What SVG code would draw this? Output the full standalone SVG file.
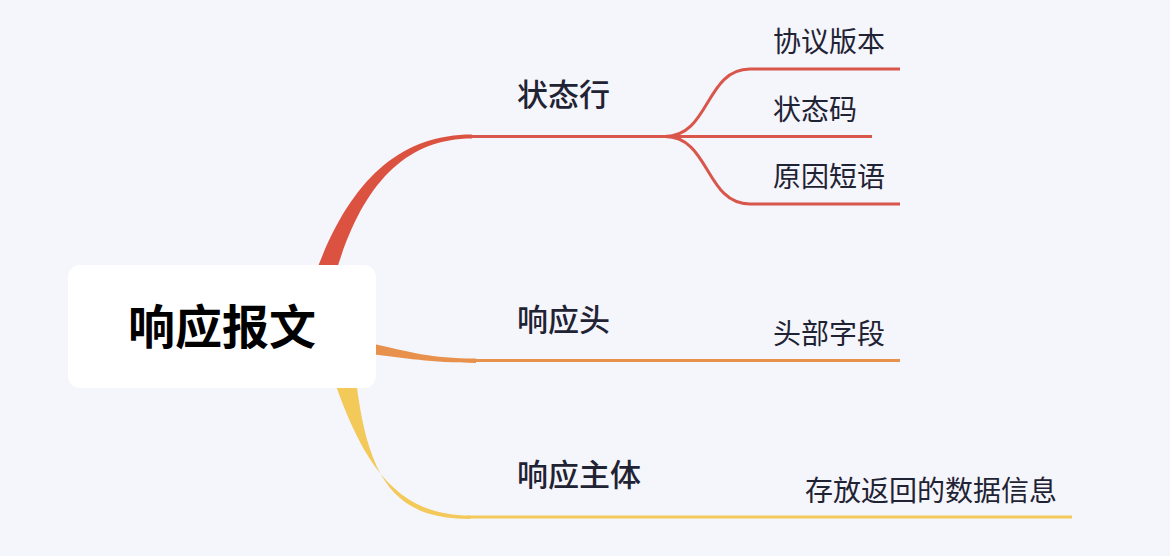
<svg xmlns="http://www.w3.org/2000/svg" width="1170" height="556" viewBox="0 0 1170 556">
<style>
.lbl{font-family:"Noto Sans CJK SC","Noto Sans",sans-serif;fill:#1f2333}
.main{font-size:31px;font-weight:500}
.sub{font-size:28px;font-weight:normal}
.root{font-family:"Noto Sans CJK SC","Noto Sans",sans-serif;font-size:47px;font-weight:bold;fill:#000}
.ln{fill:none;stroke-width:3;stroke-linecap:butt}
</style>
<rect width="1170" height="556" fill="#f5f5fc"/>
<g id="connectors">
<path d="M316,272 C350,180 400,134.5 472,134.5 L472,138.5 C405,138.5 362,185 336,272 Z" fill="#dc5241"/>
<path class="ln" stroke="#d8574a" d="M470,136.5 H665 C710,136.5 705,69 750,69 H900"/>
<path class="ln" stroke="#d8574a" d="M660,136.5 H872"/>
<path class="ln" stroke="#d8574a" d="M665,136.5 C710,136.5 705,204 750,204 H900"/>
<path d="M370,343 C410,352 430,358.5 476,358.5 L476,363 C430,362.5 405,358 370,354 Z" fill="#e8914c"/>
<path class="ln" stroke="#e8914c" d="M474,360.5 H900"/>
<path d="M334,380 C365,470 400,515.5 470,515.5 L470,519 C395,519 368,480 356,380 Z" fill="#f3c95a"/>
<path class="ln" stroke="#f3c95a" d="M468,517 H1072"/>
</g>
<g id="root">
<rect x="68" y="265" width="308" height="123" rx="12" fill="#ffffff"/>
<text class="root" x="222" y="344" text-anchor="middle">响应报文</text>
</g>
<g id="n-status-line"><text class="lbl main" x="517" y="106">状态行</text></g>
<g id="n-protocol"><text class="lbl sub" x="773" y="52">协议版本</text></g>
<g id="n-status-code"><text class="lbl sub" x="773" y="120">状态码</text></g>
<g id="n-reason"><text class="lbl sub" x="773" y="187">原因短语</text></g>
<g id="n-headers"><text class="lbl main" x="517" y="331">响应头</text></g>
<g id="n-header-fields"><text class="lbl sub" x="773" y="344">头部字段</text></g>
<g id="n-body"><text class="lbl main" x="517" y="486">响应主体</text></g>
<g id="n-body-data"><text class="lbl sub" x="805" y="501">存放返回的数据信息</text></g>
</svg>
